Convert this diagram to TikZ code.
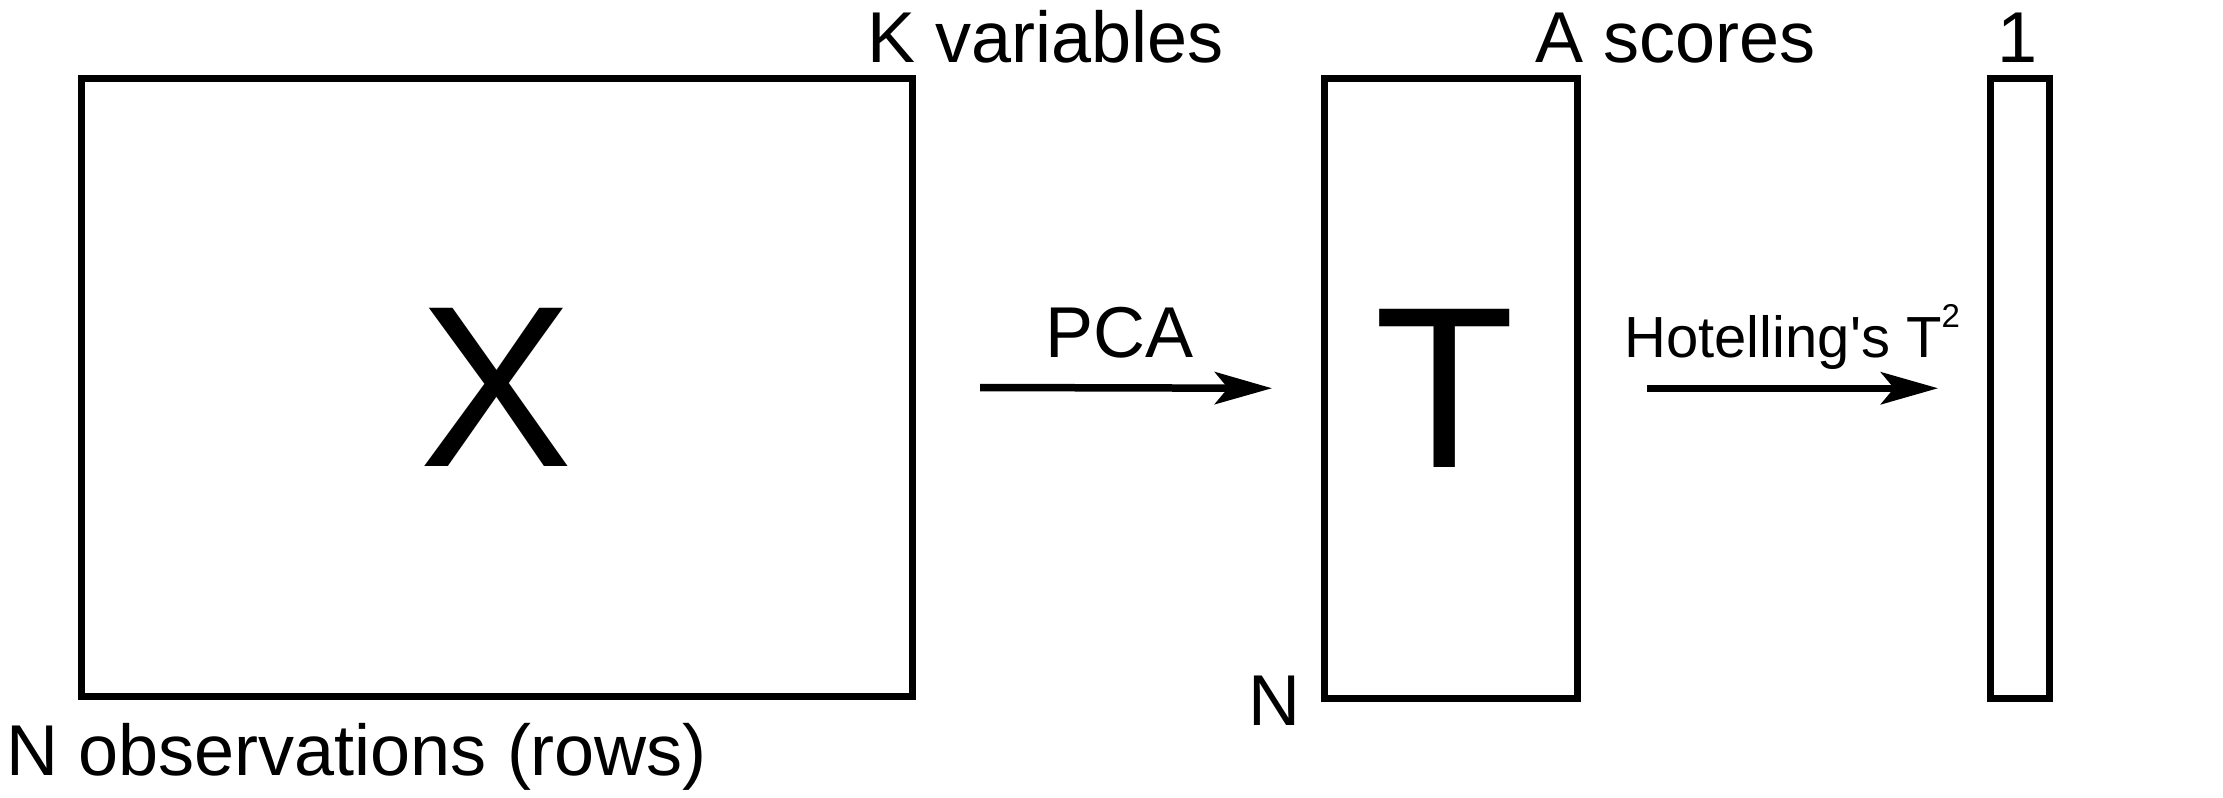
\documentclass[tikz,border=0pt]{standalone}
\usepackage{fontspec}
\setmainfont{Liberation Sans}
\newfontfamily\plainsans{Liberation Sans}
\usetikzlibrary{arrows.meta}
\begin{document}
\begin{tikzpicture}[x=0.5pt,y=-0.5pt,
  box/.style={draw=black, line width=3.5pt, rectangle, inner sep=0pt, outer sep=0pt},
  big/.style={font=\fontsize{115pt}{120pt}\selectfont},
  lbl/.style={font=\fontsize{36pt}{42pt}\selectfont, inner sep=0pt, anchor=base west},
  small/.style={font=\fontsize{29pt}{34pt}\selectfont, inner sep=0pt, anchor=base west},
  arr/.style={line width=3.75pt, -{Stealth[length=28.5pt,width=16pt,inset=6.5pt]}}]
\useasboundingbox (0,0) rectangle (2223,798);
\node[box,big,minimum width=415.5pt,minimum height=309pt] (X) at (496.5,387.5) {X};
\node[box,big,minimum width=126.5pt,minimum height=310.25pt] (T) at (1451,388.25) {\hspace{-6pt}T};
\node[box,minimum width=29.5pt,minimum height=310.25pt] (H) at (2020,388.25) {};
\node[lbl] (kvar) at (867,62) {K variables};
\node[lbl] (ascores) at (1535,62) {A scores};
\node[lbl] (one) at (1997,62) {1};
\node[lbl] (nT) at (1248,725) {N};
\node[lbl] (nobs) at (6.5,775) {N observations (rows)};
\node[lbl] (pca) at (1045,357) {PCA};
\node[small] (hot) at (1624,357) {Hotelling{\plainsans'}s T\raisebox{15pt}{\fontsize{16.5pt}{17pt}\selectfont 2}};
\draw[arr] ([xshift=34pt]X.east) -- ([xshift=-26.25pt]T.west);
\draw[arr] ([xshift=34.75pt]T.east) -- ([xshift=-26.25pt]H.west);
\end{tikzpicture}
\end{document}
